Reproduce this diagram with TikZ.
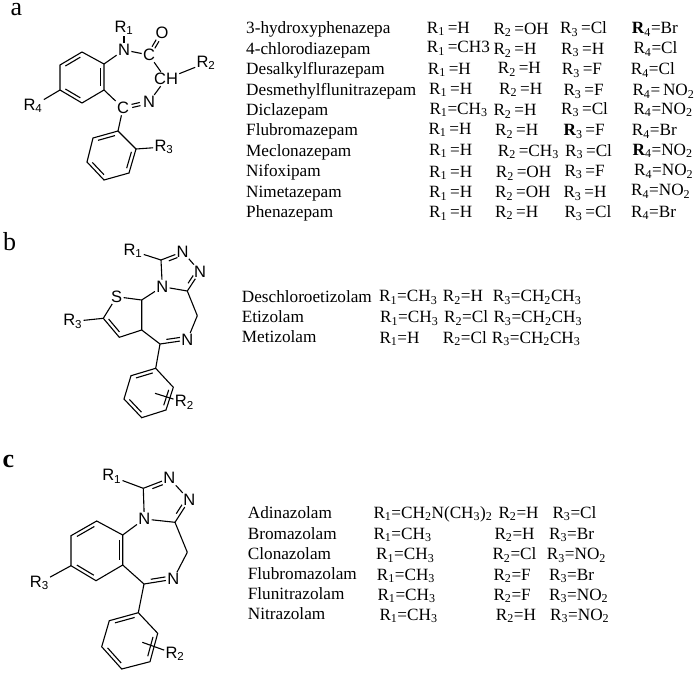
\documentclass[tikz,border=0pt]{standalone}
\usepackage{fontspec}
\setmainfont{Liberation Serif}
\newfontfamily\chemfont{Liberation Sans}
\usetikzlibrary{calc}
\newcommand{\Rn}[1]{R\textsubscript{#1}}
\newcommand{\Rb}[1]{\textbf{R}\textsubscript{#1}}
\newcommand{\NOtwo}{NO\textsubscript{2}}
\newcommand{\CHthree}{CH\textsubscript{3}}
\newcommand{\innerbond}[3][.16]{\draw[bond] ($(#2)!#1!(#3)!3.6pt!-90:(#3)$) -- ($(#3)!#1!(#2)!3.6pt!90:(#2)$);}
\newcommand{\dblbond}[3][.34]{
    \draw[bond] ($(#2)!#1!(#3)!1.6pt!-90:(#3)$) -- ($(#3)!#1!(#2)!1.6pt!90:(#2)$);
    \draw[bond] ($(#2)!#1!(#3)!1.6pt!90:(#3)$) -- ($(#3)!#1!(#2)!1.6pt!-90:(#2)$);
}
\tikzset{
    bond/.style={line width=1.1pt,black},
    atom/.style={inner sep=1.2pt,font=\chemfont\fontsize{16.5}{16.5}\selectfont},
    entry/.style={anchor=base west,inner sep=0pt,font=\fontsize{17.2}{18}\selectfont},
    panel/.style={anchor=base west,inner sep=0pt,font=\fontsize{26}{26}\selectfont}
}
\begin{document}
\begin{tikzpicture}[x=1pt,y=-1pt]
\useasboundingbox (0,0) rectangle (700,674);

% panel a
\node[panel] (labela) at (10.5,16) {a};
\coordinate (a1) at (82,52);
\coordinate (a2) at (104,64);
\coordinate (a3) at (104,90);
\coordinate (a4) at (82,103);
\coordinate (a5) at (60,90);
\coordinate (a6) at (60,65);
\coordinate (p1) at (118,131);
\coordinate (p2) at (136,149);
\coordinate (p3) at (129,173);
\coordinate (p4) at (104,180);
\coordinate (p5) at (87,162);
\coordinate (p6) at (93,138);
\node[atom] (aN) at (124,50) {N};
\node[atom] (aR1) at (124,28) {\Rn{1}};
\node[atom] (aC) at (149,55) {C};
\node[atom] (aO) at (162,33) {O};
\node[atom] (aCH) at (166,79) {CH};
\node[atom] (aR2) at (206,63) {\Rn{2}};
\node[atom] (aNb) at (149,102) {N};
\node[atom] (aCb) at (123,108) {C};
\node[atom] (aR4) at (33,106) {\Rn{4}};
\node[atom] (aR3) at (164,147) {\Rn{3}};
\draw[bond] (a1) -- (a2) -- (a3) -- (a4) -- (a5) -- (a6) -- cycle;
\draw[bond] (p1) -- (p2) -- (p3) -- (p4) -- (p5) -- (p6) -- cycle;
\innerbond{a6}{a1} \innerbond{a2}{a3} \innerbond{a4}{a5}
\innerbond{p6}{p1} \innerbond{p2}{p3} \innerbond{p4}{p5}
\draw[bond] (a2) -- (aN);
\draw[bond] (aN) -- (aR1);
\draw[bond] (aN) -- (aC);
\draw[bond] (aC) -- (aCH);
\draw[bond] (aCH) -- (aR2);
\draw[bond] (aCH) -- (aNb);
\draw[bond] (a3) -- (aCb);
\draw[bond] (aCb) -- (p1);
\draw[bond] (a5) -- (aR4);
\draw[bond] (p2) -- (aR3);
\dblbond{aC}{aO}
\dblbond{aCb}{aNb}

\node[entry] (a1n) at (246,34) {3-hydroxyphenazepa};
\node[entry] (a2n) at (246,54.5) {4-chlorodiazepam};
\node[entry] (a3n) at (246,75) {Desalkylflurazepam};
\node[entry] (a4n) at (246,95.5) {Desmethylflunitrazepam};
\node[entry] (a5n) at (246,115.5) {Diclazepam};
\node[entry] (a6n) at (246,135.5) {Flubromazepam};
\node[entry] (a7n) at (246,156.5) {Meclonazepam};
\node[entry] (a8n) at (246,176.5) {Nifoxipam};
\node[entry] (a9n) at (246,197.5) {Nimetazepam};
\node[entry] (a10n) at (246,217.5) {Phenazepam};

\node[entry] (a1r1) at (426.7,33.3) {\Rn{1}\,=H};
\node[entry] (a1r2) at (493.3,34.3) {\Rn{2}\,=OH};
\node[entry] (a1r3) at (560,33.7) {\Rn{3}\,=Cl};
\node[entry] (a1r4) at (631.7,33.7) {\Rb{4}=Br};
\node[entry] (a2r1) at (426.7,52.7) {\Rn{1}\,=CH3};
\node[entry] (a2r2) at (493.3,55) {\Rn{2}\,=H};
\node[entry] (a2r3) at (561,54.3) {\Rn{3}\,=H};
\node[entry] (a2r4) at (633.3,53.7) {\Rn{4}=Cl};
\node[entry] (a3r1) at (427.7,74.3) {\Rn{1}\,=H};
\node[entry] (a3r2) at (497.7,74) {\Rn{2}\,=H};
\node[entry] (a3r3) at (561.7,75) {\Rn{3}\,=F};
\node[entry] (a3r4) at (630.7,75) {\Rn{4}=Cl};
\node[entry] (a4r1) at (429,94.3) {\Rn{1}\,=H};
\node[entry] (a4r2) at (499,94.3) {\Rn{2}\,=H};
\node[entry] (a4r3) at (563.3,95.7) {\Rn{3}\,=F};
\node[entry] (a4r4) at (632.3,95.7) {\Rn{4}=\,\NOtwo};
\node[entry] (a5r1) at (429.3,114.3) {\Rn{1}=\CHthree};
\node[entry] (a5r2) at (493.3,115.7) {\Rn{2}\,=H};
\node[entry] (a5r3) at (561,114.3) {\Rn{3}\,=Cl};
\node[entry] (a5r4) at (633.3,114.3) {\Rn{4}=\NOtwo};
\node[entry] (a6r1) at (428.3,134.3) {\Rn{1}\,=H};
\node[entry] (a6r2) at (495,135.7) {\Rn{2}\,=H};
\node[entry] (a6r3) at (563.3,135.7) {\Rb{3}\,=F};
\node[entry] (a6r4) at (631.7,135.7) {\Rn{4}=Br};
\node[entry] (a7r1) at (429,155) {\Rn{1}\,=H};
\node[entry] (a7r2) at (497.7,156.3) {\Rn{2}\,=\CHthree};
\node[entry] (a7r3) at (565,156.3) {\Rn{3}\,=Cl};
\node[entry] (a7r4) at (632.3,155) {\Rb{4}=\NOtwo};
\node[entry] (a8r1) at (429,177) {\Rn{1}\,=H};
\node[entry] (a8r2) at (495.7,177.7) {\Rn{2}\,=OH};
\node[entry] (a8r3) at (564.3,176.3) {\Rn{3}\,=F};
\node[entry] (a8r4) at (634,175.7) {\Rn{4}=\NOtwo};
\node[entry] (a9r1) at (429,197.7) {\Rn{1}\,=H};
\node[entry] (a9r2) at (495,197.7) {\Rn{2}\,=OH};
\node[entry] (a9r3) at (563.3,197.7) {\Rn{3}\,=H};
\node[entry] (a9r4) at (631,195.7) {\Rn{4}=\NOtwo};
\node[entry] (a10r1) at (429,217.7) {\Rn{1}\,=H};
\node[entry] (a10r2) at (495,217) {\Rn{2}\,=H};
\node[entry] (a10r3) at (564.3,217.7) {\Rn{3}\,=Cl};
\node[entry] (a10r4) at (631,217) {\Rn{4}=Br};

% panel b
\node[panel] (labelb) at (3,250) {b};
\coordinate (b1) at (161,260);
\coordinate (b2) at (187.3,291);
\coordinate (b3) at (141.7,300);
\coordinate (b4) at (103.3,318.3);
\coordinate (b5) at (119.3,337.3);
\coordinate (b6) at (141.7,330);
\coordinate (b7) at (160,344);
\coordinate (b8) at (197.3,315.7);
\coordinate (q1) at (155.7,368.3);
\coordinate (q2) at (173.3,387.3);
\coordinate (q3) at (166,410);
\coordinate (q4) at (141.7,417.7);
\coordinate (q5) at (124,399);
\coordinate (q6) at (131,375.7);
\coordinate (bX) at (155,393.3);
\node[atom] (bR1) at (133,251) {\Rn{1}};
\node[atom] (bNa) at (182.7,251.7) {N};
\node[atom] (bNb) at (200,271.7) {N};
\node[atom] (bNc) at (162.3,286.7) {N};
\node[atom] (bS) at (116.7,296.7) {S};
\node[atom] (bR3) at (72.7,321.5) {\Rn{3}};
\node[atom] (bNd) at (187.3,340) {N};
\node[atom] (bR2) at (184.3,402.5) {\Rn{2}};
\draw[bond] (bR1) -- (b1);
\draw[bond] (b1) -- (bNa);
\draw[bond] (bNa) -- (bNb);
\draw[bond] (bNb) -- (b2);
\draw[bond] (b2) -- (bNc);
\draw[bond] (bNc) -- (b1);
\draw[bond] (bNc) -- (b3);
\draw[bond] (b3) -- (bS);
\draw[bond] (bS) -- (b4);
\draw[bond] (b4) -- (bR3);
\draw[bond] (b4) -- (b5) -- (b6) -- (b3);
\draw[bond] (b6) -- (b7);
\draw[bond] (b7) -- (bNd);
\draw[bond] (bNd) -- (b8);
\draw[bond] (b8) -- (b2);
\draw[bond] (b7) -- (q1);
\draw[bond] (q1) -- (q2) -- (q3) -- (q4) -- (q5) -- (q6) -- cycle;
\draw[bond] (bX) -- (bR2);
\innerbond[.3]{b1}{bNa} \innerbond[.3]{bNb}{b2}
\innerbond{b5}{b4} \innerbond[.25]{bNd}{b7}
\innerbond{q6}{q1} \innerbond{q2}{q3} \innerbond{q4}{q5}

\node[entry] (b1n) at (241.7,302) {Deschloroetizolam};
\node[entry] (b2n) at (241.7,322.3) {Etizolam};
\node[entry] (b3n) at (241.7,342.7) {Metizolam};
\node[entry] (b1r1) at (379,301.7) {\Rn{1}=\CHthree};
\node[entry] (b1r2) at (442.7,301.7) {\Rn{2}=H};
\node[entry] (b1r3) at (492.7,301.7) {\Rn{3}=CH\textsubscript{2}\CHthree};
\node[entry] (b2r1) at (380,322.7) {\Rn{1}=\CHthree};
\node[entry] (b2r2) at (444,322.7) {\Rn{2}=Cl};
\node[entry] (b2r3) at (493.3,322.7) {\Rn{3}=CH\textsubscript{2}\CHthree};
\node[entry] (b3r1) at (379.3,343) {\Rn{1}=H};
\node[entry] (b3r2) at (442.7,343) {\Rn{2}=Cl};
\node[entry] (b3r3) at (491.7,343) {\Rn{3}=CH\textsubscript{2}\CHthree};

% panel c
\node[panel] (labelc) at (2.5,467) {\textbf{c}};
\coordinate (c1) at (143.3,488.3);
\coordinate (c2) at (175,522.3);
\coordinate (c3) at (96.7,521);
\coordinate (c4) at (122.7,535);
\coordinate (c5) at (122.7,565);
\coordinate (c6) at (96,580.7);
\coordinate (c7) at (71,565.7);
\coordinate (c8) at (71,535.7);
\coordinate (c9) at (144,584);
\coordinate (c10) at (187.3,552.3);
\coordinate (r1) at (138.3,612.7);
\coordinate (r2) at (157.7,633.3);
\coordinate (r3) at (150,661.7);
\coordinate (r4) at (121.7,669);
\coordinate (r5) at (101.7,646.7);
\coordinate (r6) at (109.3,620.7);
\coordinate (cX) at (142.3,642.3);
\node[atom] (cR1) at (111.7,476.5) {\Rn{1}};
\node[atom] (cNa) at (169.3,478.3) {N};
\node[atom] (cNb) at (189.3,500) {N};
\node[atom] (cNc) at (144.3,519) {N};
\node[atom] (cR3) at (39.3,583) {\Rn{3}};
\node[atom] (cNd) at (173.3,579.3) {N};
\node[atom] (cR2) at (175,654) {\Rn{2}};
\draw[bond] (cR1) -- (c1);
\draw[bond] (c1) -- (cNa);
\draw[bond] (cNa) -- (cNb);
\draw[bond] (cNb) -- (c2);
\draw[bond] (c2) -- (cNc);
\draw[bond] (cNc) -- (c1);
\draw[bond] (cNc) -- (c4);
\draw[bond] (c3) -- (c4) -- (c5) -- (c6) -- (c7) -- (c8) -- cycle;
\draw[bond] (c7) -- (cR3);
\draw[bond] (c5) -- (c9);
\draw[bond] (c9) -- (cNd);
\draw[bond] (cNd) -- (c10);
\draw[bond] (c10) -- (c2);
\draw[bond] (c9) -- (r1);
\draw[bond] (r1) -- (r2) -- (r3) -- (r4) -- (r5) -- (r6) -- cycle;
\draw[bond] (cX) -- (cR2);
\innerbond[.3]{c1}{cNa} \innerbond[.3]{cNb}{c2}
\innerbond{c8}{c3} \innerbond{c4}{c5} \innerbond{c6}{c7}
\innerbond[.25]{cNd}{c9}
\innerbond{r6}{r1} \innerbond{r2}{r3} \innerbond{r4}{r5}

\node[entry] (c1n) at (247.7,518.3) {Adinazolam};
\node[entry] (c2n) at (247.7,539) {Bromazolam};
\node[entry] (c3n) at (247.7,559) {Clonazolam};
\node[entry] (c4n) at (247.7,579.3) {Flubromazolam};
\node[entry] (c5n) at (247.7,599.3) {Flunitrazolam};
\node[entry] (c6n) at (247.7,619.3) {Nitrazolam};
\node[entry] (c1r1) at (373.3,518.3) {\Rn{1}=CH\textsubscript{2}N(\CHthree)\textsubscript{2}};
\node[entry] (c1r2) at (498.3,518.3) {\Rn{2}=H};
\node[entry] (c1r3) at (552.3,518.3) {\Rn{3}=Cl};
\node[entry] (c2r1) at (373.3,539) {\Rn{1}=\CHthree};
\node[entry] (c2r2) at (494.3,539) {\Rn{2}=H};
\node[entry] (c2r3) at (549,539) {\Rn{3}=Br};
\node[entry] (c3r1) at (376,559.7) {\Rn{1}=\CHthree};
\node[entry] (c3r2) at (492.3,559.7) {\Rn{2}=Cl};
\node[entry] (c3r3) at (546.7,559.7) {\Rn{3}=\NOtwo};
\node[entry] (c4r1) at (376.7,580) {\Rn{1}=\CHthree};
\node[entry] (c4r2) at (493.3,580) {\Rn{2}=F};
\node[entry] (c4r3) at (549,580) {\Rn{3}=Br};
\node[entry] (c5r1) at (377.3,600) {\Rn{1}=\CHthree};
\node[entry] (c5r2) at (493.3,600) {\Rn{2}=F};
\node[entry] (c5r3) at (549,600) {\Rn{3}=\NOtwo};
\node[entry] (c6r1) at (379.3,620) {\Rn{1}=\CHthree};
\node[entry] (c6r2) at (495.7,620) {\Rn{2}=H};
\node[entry] (c6r3) at (550,620) {\Rn{3}=\NOtwo};
\end{tikzpicture}
\end{document}
